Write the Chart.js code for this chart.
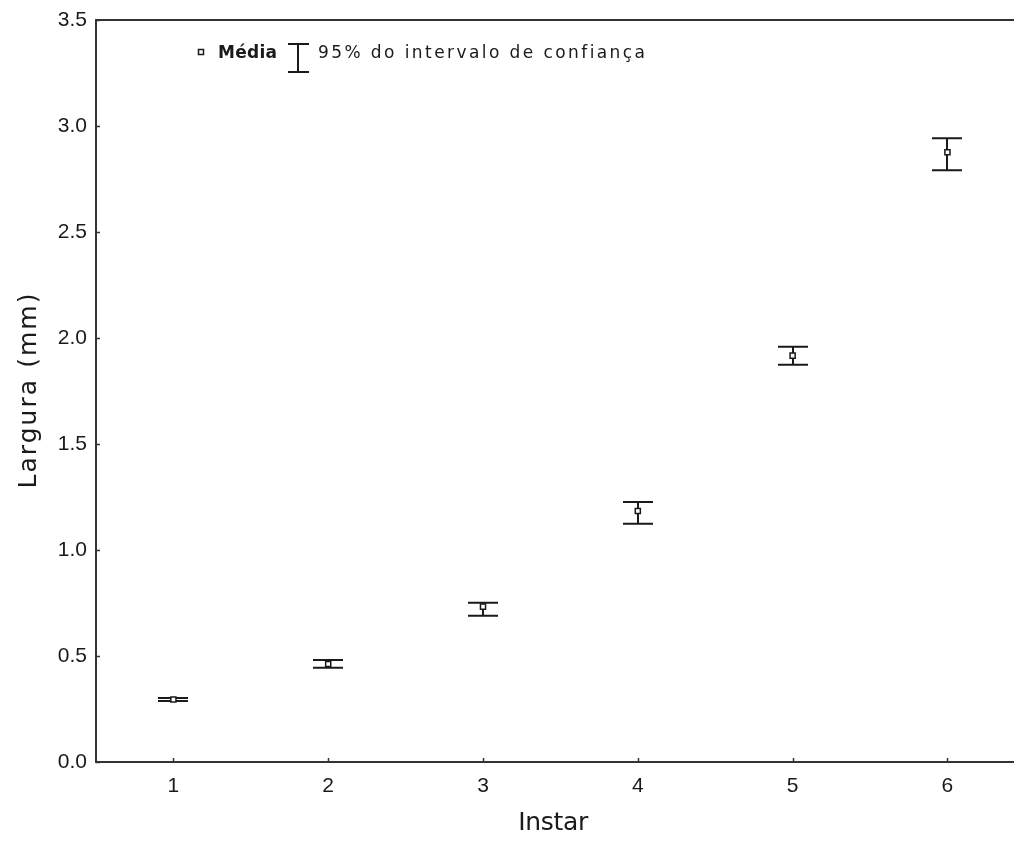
<!DOCTYPE html>
<html>
<head>
<meta charset="utf-8">
<script src="https://cdn.jsdelivr.net/npm/chart.js@4.4.1/dist/chart.umd.min.js"></script>
<style>
html,body{margin:0;padding:0;background:#fff;overflow:hidden;}
#wrap{width:1014px;height:845px;}
</style>
</head>
<body>
<div id="wrap"><canvas id="c" width="1014" height="845"></canvas></div>
<script>
const categories = [1, 2, 3, 4, 5, 6];
const means = [0.295, 0.462, 0.733, 1.184, 1.917, 2.876];
const lower = [0.288, 0.445, 0.690, 1.124, 1.874, 2.791];
const upper = [0.302, 0.481, 0.751, 1.226, 1.959, 2.942];
const yTicks = [0.0, 0.5, 1.0, 1.5, 2.0, 2.5, 3.0, 3.5];
const xTitle = 'Instar';
const yTitle = 'Largura (mm)';
const legendMean = 'Média';
const legendCI = '95% do intervalo de confiança';

const INK = '#1a1a1a';
const FONT = '"Liberation Sans", Arial, sans-serif';
const WFONT = '"DejaVu Sans", "Liberation Sans", sans-serif';

function fitText(ctx, text, font, width) {
  ctx.font = font;
  ctx.letterSpacing = '0px';
  const w = ctx.measureText(text).width;
  const n = Math.max(text.length - 1, 1);
  return (width - w) / n;
}

const errorBars = {
  id: 'errorBars',
  beforeDatasetsDraw(chart) {
    const ctx = chart.ctx, x = chart.scales.x, y = chart.scales.y;
    ctx.save();
    ctx.strokeStyle = INK;
    ctx.lineWidth = 2;
    categories.forEach((c, i) => {
      const px = Math.round(x.getPixelForValue(c));
      const yl = y.getPixelForValue(lower[i]);
      const yu = y.getPixelForValue(upper[i]);
      ctx.beginPath();
      ctx.moveTo(px, yl); ctx.lineTo(px, yu);
      ctx.moveTo(px - 15, yl); ctx.lineTo(px + 15, yl);
      ctx.moveTo(px - 15, yu); ctx.lineTo(px + 15, yu);
      ctx.stroke();
    });
    ctx.restore();
  }
};

const frame = {
  id: 'frame',
  afterDraw(chart) {
    const ctx = chart.ctx, a = chart.chartArea, x = chart.scales.x, y = chart.scales.y;
    ctx.save();
    ctx.strokeStyle = '#333';
    ctx.lineWidth = 2;
    ctx.beginPath();
    ctx.moveTo(a.left, a.top); ctx.lineTo(a.right, a.top);
    ctx.stroke();
    // inward ticks
    ctx.lineWidth = 1.5;
    ctx.beginPath();
    categories.forEach(c => {
      const px = Math.round(x.getPixelForValue(c)) + 0.5;
      ctx.moveTo(px, a.bottom); ctx.lineTo(px, a.bottom - 4);
    });
    yTicks.forEach(v => {
      const py = Math.round(y.getPixelForValue(v)) + 0.5;
      ctx.moveTo(a.left, py); ctx.lineTo(a.left + 4, py);
    });
    ctx.stroke();

    // axis titles
    ctx.fillStyle = INK;
    const tFont = '25px ' + WFONT;
    let ls = fitText(ctx, xTitle, tFont, 70);
    ctx.font = tFont; ctx.letterSpacing = ls + 'px';
    ctx.textAlign = 'left'; ctx.textBaseline = 'middle';
    let w = ctx.measureText(xTitle).width;
    ctx.fillText(xTitle, 553 - w / 2, 823);

    ls = fitText(ctx, yTitle, tFont, 195);
    ctx.font = tFont; ctx.letterSpacing = ls + 'px';
    w = ctx.measureText(yTitle).width;
    ctx.save();
    ctx.translate(29, 390);
    ctx.rotate(-Math.PI / 2);
    ctx.fillText(yTitle, -w / 2, 0);
    ctx.restore();

    // legend
    ctx.lineWidth = 1.5;
    ctx.strokeStyle = INK;
    ctx.fillStyle = '#fff';
    ctx.fillRect(198.5, 49.5, 5, 5);
    ctx.strokeRect(198.5, 49.5, 5, 5);
    ctx.fillStyle = INK;
    ctx.textBaseline = 'alphabetic';
    const bFont = 'bold 17px ' + WFONT;
    ls = fitText(ctx, legendMean, bFont, 59);
    ctx.font = bFont; ctx.letterSpacing = ls + 'px';
    ctx.fillText(legendMean, 218, 58);
    ctx.lineWidth = 2;
    ctx.beginPath();
    ctx.moveTo(298, 44); ctx.lineTo(298, 72);
    ctx.moveTo(288, 44); ctx.lineTo(309, 44);
    ctx.moveTo(288, 72); ctx.lineTo(309, 72);
    ctx.stroke();
    const lFont = '17px ' + WFONT;
    ls = fitText(ctx, legendCI, lFont, 327);
    ctx.font = lFont; ctx.letterSpacing = ls + 'px';
    ctx.fillText(legendCI, 318, 58);
    ctx.restore();
  }
};

new Chart(document.getElementById('c'), {
  type: 'scatter',
  data: {
    datasets: [{
      label: legendMean,
      data: categories.map((c, i) => ({ x: c, y: means[i] })),
      pointStyle: 'rect',
      pointRadius: 3.6,
      pointBorderWidth: 1.5,
      pointBorderColor: INK,
      pointBackgroundColor: '#fff',
      showLine: false
    }]
  },
  options: {
    responsive: false,
    animation: false,
    events: [],
    layout: { autoPadding: false, padding: { top: 20, left: 0, right: 0, bottom: 0 } },
    plugins: { legend: { display: false }, tooltip: { enabled: false } },
    scales: {
      x: {
        type: 'linear',
        min: 0.5,
        max: 6.43,
        afterBuildTicks(s) { s.ticks = categories.map(v => ({ value: v })); },
        afterFit(s) { s.height = 83; s.paddingLeft = 0; s.paddingRight = 0; },
        grid: { display: false, drawTicks: false },
        border: { display: true, color: '#333', width: 2 },
        ticks: {
          padding: 12,
          color: INK,
          font: { family: FONT, size: 21 },
          callback: v => String(v)
        }
      },
      y: {
        min: 0,
        max: 3.5,
        afterBuildTicks(s) { s.ticks = yTicks.map(v => ({ value: v })); },
        afterFit(s) { s.width = 96; s.paddingTop = 0; s.paddingBottom = 0; },
        grid: { display: false, drawTicks: false },
        border: { display: true, color: '#333', width: 2 },
        ticks: {
          padding: 9,
          color: INK,
          font: { family: FONT, size: 21 },
          callback: v => Number(v).toFixed(1)
        }
      }
    }
  },
  plugins: [errorBars, frame]
});
</script>
</body>
</html>
